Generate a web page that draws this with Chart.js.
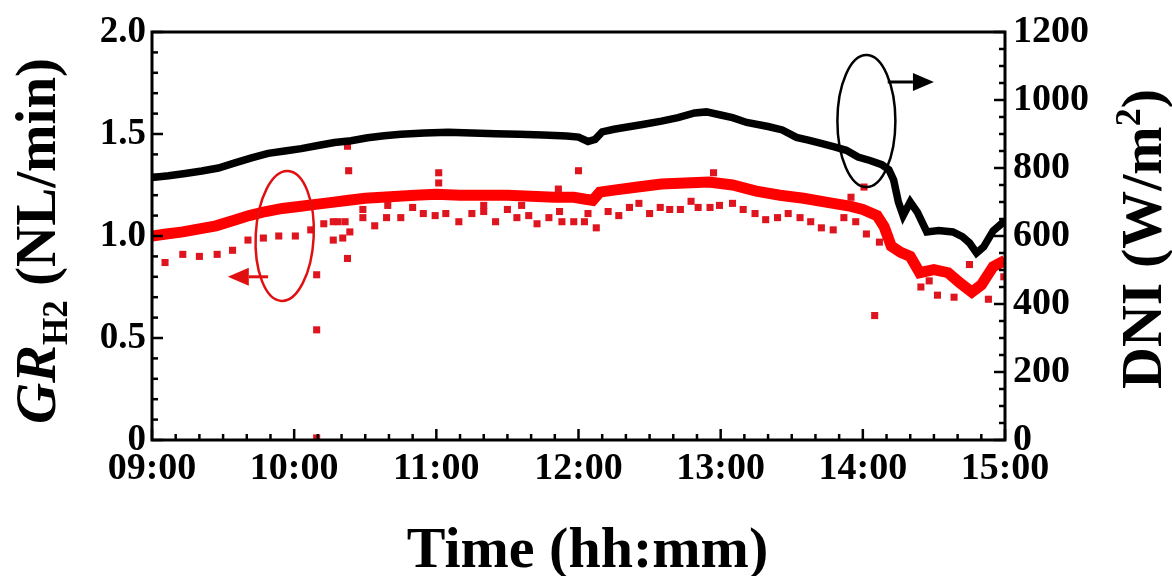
<!DOCTYPE html>
<html>
<head>
<meta charset="utf-8">
<script src="https://cdn.jsdelivr.net/npm/chart.js@4.4.1/dist/chart.umd.min.js"></script>
<style>
html, body { margin: 0; padding: 0; background: #fff; }
#wrap { width: 1172px; height: 576px; }
</style>
</head>
<body>
<div id="wrap"><canvas id="chart"></canvas></div>
<script>
// time is in minutes after 09:00
const timeLabels = ['09:00', '10:00', '11:00', '12:00', '13:00', '14:00', '15:00'];

// DNI (W/m2), right axis
const dniTime = [0, 7, 14, 21, 28, 35, 42, 49, 56, 63, 70, 77, 84, 91, 98, 105, 115, 125, 135, 145,
  155, 165, 175, 180, 184, 187, 190, 195, 200, 207, 215, 222, 229, 234, 240, 245, 251, 260, 266, 272,
  277, 282, 288, 293, 298, 303, 308, 311, 313, 315, 317, 320, 323, 327, 332, 338, 342, 345, 348, 351,
  355, 360];
const dniValues = [772, 777, 784, 791, 800, 815, 830, 843, 850, 857, 866, 875, 880, 889, 895, 899, 903, 905, 903, 901,
  899, 897, 894, 891, 878, 884, 906, 914, 920, 928, 938, 948, 962, 965, 956, 948, 934, 922, 912, 890,
  882, 873, 862, 852, 832, 822, 810, 795, 765, 700, 660, 700, 670, 612, 616, 612, 598, 580, 550, 568,
  615, 645];

// GR_H2 (NL/min), left axis - main band
const grTime = [0, 6, 13, 20, 27, 34, 41, 48, 55, 62, 69, 76, 83, 90, 97, 104, 111, 120, 130, 140,
  150, 160, 170, 178, 183, 186, 189, 195, 205, 215, 225, 235, 245, 255, 265, 275, 285, 295, 300, 306,
  309, 312, 316, 320, 324, 330, 336, 341, 346, 350, 355, 360];
const grValues = [1.00, 1.01, 1.02, 1.035, 1.05, 1.075, 1.10, 1.12, 1.135, 1.145, 1.155, 1.165, 1.175, 1.185, 1.19, 1.195, 1.20, 1.205, 1.20, 1.20,
  1.20, 1.195, 1.19, 1.19, 1.18, 1.175, 1.215, 1.225, 1.24, 1.255, 1.26, 1.265, 1.25, 1.22, 1.20, 1.185, 1.165, 1.145, 1.13, 1.10,
  1.045, 0.95, 0.92, 0.90, 0.82, 0.835, 0.82, 0.77, 0.725, 0.76, 0.85, 0.88];

// GR_H2 scattered readings
const grScatterTime = [5.5, 13, 20, 27.5, 34, 40.5, 47, 53.5, 60.5, 67, 69.5, 69.5, 69.5, 72.5, 76.5, 78.5, 81.5, 83.5, 76.5, 80.5,
  82.5, 83, 82.5, 89, 89, 94, 99, 99.5, 105, 110, 114.5, 119.5, 121, 121, 124, 129.5, 135, 140, 140, 145,
  150, 154, 156, 159, 162.5, 167.5, 172, 171.5, 173, 178, 180, 182.5, 184, 187.5, 192.5, 197, 201.5, 205.5, 210, 214.5,
  218.5, 223, 227.5, 230.5, 235.5, 237, 239.5, 245, 249.5, 254.5, 259, 264, 268.5, 273.5, 278, 282.5, 287.5, 292, 295, 297,
  301.5, 300.5, 307, 305, 324.5, 328, 331.5, 338.5, 345, 353, 359.5];
const grScatterValues = [0.87, 0.91, 0.90, 0.91, 0.93, 0.98, 0.99, 1.00, 1.00, 1.03, 0.81, 0.54, 0.01, 1.06, 1.07, 1.07, 1.07, 1.02, 0.98, 0.99,
  0.89, 1.32, 1.44, 1.13, 1.09, 1.05, 1.09, 1.15, 1.09, 1.14, 1.11, 1.10, 1.31, 1.26, 1.11, 1.07, 1.11, 1.15, 1.12, 1.07,
  1.13, 1.09, 1.15, 1.10, 1.06, 1.09, 1.12, 1.23, 1.07, 1.07, 1.32, 1.07, 1.11, 1.04, 1.12, 1.10, 1.14, 1.16, 1.11, 1.14,
  1.13, 1.13, 1.17, 1.14, 1.14, 1.31, 1.15, 1.16, 1.13, 1.11, 1.08, 1.09, 1.11, 1.09, 1.07, 1.04, 1.03, 1.09, 1.19, 1.07,
  1.01, 1.24, 0.97, 0.61, 0.75, 0.78, 0.71, 0.70, 0.86, 0.69, 0.80];

const SERIF = '"Liberation Serif", "Times New Roman", serif';

// inward tick marks, frame, ellipses/arrows and the axis titles
const decorations = {
  id: 'decorations',
  afterDatasetsDraw(chart) {
    const { ctx, chartArea: a, scales } = chart;
    const x = scales.x, yL = scales.yL, yR = scales.yR;
    ctx.save();
    ctx.strokeStyle = '#000';
    ctx.lineCap = 'butt';
    ctx.lineWidth = 2.5;
    const seg = (x1, y1, x2, y2) => { ctx.beginPath(); ctx.moveTo(x1, y1); ctx.lineTo(x2, y2); ctx.stroke(); };

    for (let m = 0; m <= 360; m += 10) {
      const px = x.getPixelForValue(m);
      seg(px, a.bottom, px, a.bottom - (m % 60 === 0 ? 11 : 6));
    }
    for (let i = 0; i <= 20; i++) {
      const py = yL.getPixelForValue(i / 10);
      seg(a.left, py, a.left + (i % 5 === 0 ? 11 : 6), py);
    }
    for (let v = 0; v <= 1200; v += 50) {
      const py = yR.getPixelForValue(v);
      seg(a.right, py, a.right - (v % 200 === 0 ? 11 : 6), py);
    }
    ctx.lineWidth = 3;
    ctx.strokeRect(a.left, a.top, a.right - a.left, a.bottom - a.top);

    // ellipses + arrows pointing at the axis each series belongs to
    const ell = (cx, cy, rx, ry, rot, color) => {
      ctx.strokeStyle = color;
      ctx.lineWidth = 2.5;
      ctx.beginPath();
      ctx.ellipse(cx, cy, rx, ry, rot, 0, Math.PI * 2);
      ctx.stroke();
    };
    const arrow = (x1, x2, y, color) => {
      ctx.strokeStyle = color;
      ctx.fillStyle = color;
      ctx.lineWidth = 3;
      const dir = Math.sign(x2 - x1);
      const hx = x2 - dir * 21;
      seg(x1, y, hx, y);
      ctx.beginPath();
      ctx.moveTo(x2, y);
      ctx.lineTo(hx, y - 9);
      ctx.lineTo(hx, y + 9);
      ctx.closePath();
      ctx.fill();
    };
    ell(x.getPixelForValue(56), yL.getPixelForValue(1.0), 29, 65, 0.05, '#e01010');
    arrow(x.getPixelForValue(49), x.getPixelForValue(32), yL.getPixelForValue(0.80), '#e01010');
    ell(x.getPixelForValue(301.5), yR.getPixelForValue(938), 29, 66, 0, '#000');
    arrow(x.getPixelForValue(310.5), x.getPixelForValue(330), yR.getPixelForValue(1053), '#000');

    // axis titles
    ctx.fillStyle = '#000';
    ctx.textBaseline = 'alphabetic';
    ctx.textAlign = 'center';
    ctx.font = 'bold 58px ' + SERIF;
    ctx.fillText('Time (hh:mm)', (a.left + a.right) / 2 + 9, 567);

    const rotated = (px, cy, parts) => {
      ctx.save();
      ctx.translate(px, cy);
      ctx.rotate(-Math.PI / 2);
      ctx.textAlign = 'left';
      let total = 0;
      parts.forEach(p => { ctx.font = p.font; total += ctx.measureText(p.text).width; });
      let cx = -total / 2;
      parts.forEach(p => {
        ctx.font = p.font;
        ctx.fillText(p.text, cx, p.dy);
        cx += ctx.measureText(p.text).width;
      });
      ctx.restore();
    };
    rotated(55, 241, [
      { text: 'GR', font: 'italic bold 57px ' + SERIF, dy: 0 },
      { text: 'H2', font: 'bold 35px ' + SERIF, dy: 12 },
      { text: ' (NL/min)', font: 'bold 57px ' + SERIF, dy: 0 }
    ]);
    rotated(1161, 239, [
      { text: 'DNI (W/m', font: 'bold 58px ' + SERIF, dy: 0 },
      { text: '2', font: 'bold 36px ' + SERIF, dy: -21 },
      { text: ')', font: 'bold 58px ' + SERIF, dy: 0 }
    ]);
    ctx.restore();
  }
};

new Chart(document.getElementById('chart'), {
  type: 'line',
  data: {
    datasets: [
      {
        label: 'DNI',
        data: dniTime.map((t, i) => ({ x: t, y: dniValues[i] })),
        yAxisID: 'yR',
        borderColor: '#000',
        borderWidth: 7.5,
        pointRadius: 0,
        tension: 0
      },
      {
        label: 'GR scatter',
        data: grScatterTime.map((t, i) => ({ x: t, y: grScatterValues[i] })),
        yAxisID: 'yL',
        showLine: false,
        pointStyle: 'rect',
        pointRadius: 5,
        pointBorderWidth: 0,
        pointBackgroundColor: 'rgb(222, 20, 30)'
      },
      {
        label: 'GR',
        data: grTime.map((t, i) => ({ x: t, y: grValues[i] })),
        yAxisID: 'yL',
        borderColor: '#ff0000',
        borderWidth: 11,
        pointRadius: 0,
        tension: 0
      }
    ]
  },
  options: {
    responsive: true,
    maintainAspectRatio: false,
    animation: false,
    layout: { padding: { top: 32, left: 0, right: 0, bottom: 0 } },
    plugins: {
      legend: { display: false },
      tooltip: { enabled: false }
    },
    scales: {
      x: {
        type: 'linear',
        min: 0,
        max: 360,
        grid: { display: false, drawTicks: false },
        border: { display: false },
        ticks: {
          stepSize: 60,
          padding: 6,
          color: '#000',
          font: { family: SERIF, size: 38, weight: 'bold' },
          maxRotation: 0,
          autoSkip: false,
          callback: v => timeLabels[v / 60]
        },
        afterFit: s => { s.height = 136; }
      },
      yL: {
        position: 'left',
        min: 0,
        max: 2,
        grid: { display: false, drawTicks: false },
        border: { display: false },
        ticks: {
          stepSize: 0.5,
          padding: 6,
          color: '#000',
          font: { family: SERIF, size: 37, weight: 'bold' },
          callback: v => (v === 0 ? '0' : v.toFixed(1))
        },
        afterFit: s => { s.width = 152; }
      },
      yR: {
        position: 'right',
        min: 0,
        max: 1200,
        grid: { display: false, drawTicks: false },
        border: { display: false },
        ticks: {
          stepSize: 200,
          padding: 8,
          color: '#000',
          font: { family: SERIF, size: 38, weight: 'bold' },
          callback: v => String(v)
        },
        afterFit: s => { s.width = 167; }
      }
    }
  },
  plugins: [decorations]
});
</script>
</body>
</html>
